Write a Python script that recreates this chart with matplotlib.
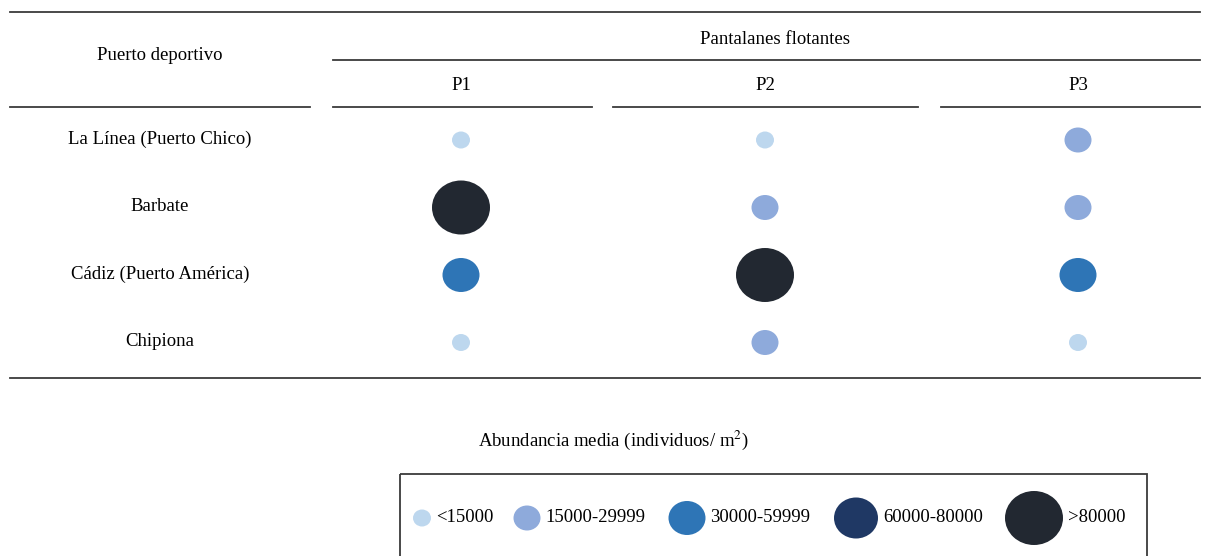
import matplotlib.pyplot as plt
from matplotlib.patches import Ellipse, Rectangle

# data: abundance class (1..5) per port and floating pontoon
ports = ['La Línea (Puerto Chico)', 'Barbate', 'Cádiz (Puerto América)', 'Chipiona']
pontoons = ['P1', 'P2', 'P3']
abund_class = [
    [1, 1, 2],
    [5, 2, 2],
    [3, 5, 3],
    [1, 2, 1],
]
class_labels = ['<15000', '15000-29999', '30000-59999', '60000-80000', '>80000']

# style per class: colour and (width, height) in pixels
class_colors = ['#bdd7ee', '#8eaadb', '#2e75b6', '#1f3864', '#222831']
class_sizes = [(18, 17), (27, 25), (37, 34), (44, 41), (58, 54)]

plt.rcParams['font.family'] = ['Liberation Serif', 'DejaVu Serif']

fig = plt.figure(figsize=(12.09, 5.56), dpi=100)
ax = fig.add_axes([0, 0, 1, 1])
ax.set_xlim(0, 1209)
ax.set_ylim(556, 0)
ax.axis('off')

lc = '#3a3a3a'
lw = 1.3
fs = 13.5

# table rules
ax.plot([10, 1200], [12, 12], color=lc, lw=lw)
ax.plot([333, 1200], [60, 60], color=lc, lw=lw)
for x0, x1 in [(10, 310), (333, 592), (613, 918), (941, 1200)]:
    ax.plot([x0, x1], [107, 107], color=lc, lw=lw)
ax.plot([10, 1200], [378, 378], color=lc, lw=lw)

# headers
ax.text(160, 56, 'Puerto deportivo', ha='center', va='center', fontsize=fs)
ax.text(775, 40, 'Pantalanes flotantes', ha='center', va='center', fontsize=fs)
col_x = [461, 765, 1078]
for x, p in zip(col_x, pontoons):
    ax.text(x, 86, p, ha='center', va='center', fontsize=fs)

# rows
row_y0, row_step = 139, 67.5
for i, port in enumerate(ports):
    y = row_y0 + i * row_step
    ax.text(160, y, port, ha='center', va='center', fontsize=fs)
    for j, c in enumerate(abund_class[i]):
        w, h = class_sizes[c - 1]
        ax.add_patch(Ellipse((col_x[j], y + 1), w, h, color=class_colors[c - 1], lw=0))

# legend
ax.text(613, 440, 'Abundancia media (individuos/ m$^2$)', ha='center', va='center',
        fontsize=fs, math_fontfamily='stix')
ax.add_patch(Rectangle((400, 474), 747, 90, fill=False, edgecolor=lc, lw=lw))
leg_marker_x = [422, 527, 687, 856, 1034]
for k, lab in enumerate(class_labels):
    w, h = class_sizes[k]
    mx = leg_marker_x[k]
    ax.add_patch(Ellipse((mx, 518), w, h, color=class_colors[k], lw=0))
    ax.text(mx + w / 2 + 5, 518, lab, ha='left', va='center', fontsize=fs)

fig.savefig('out.png', dpi=100)
